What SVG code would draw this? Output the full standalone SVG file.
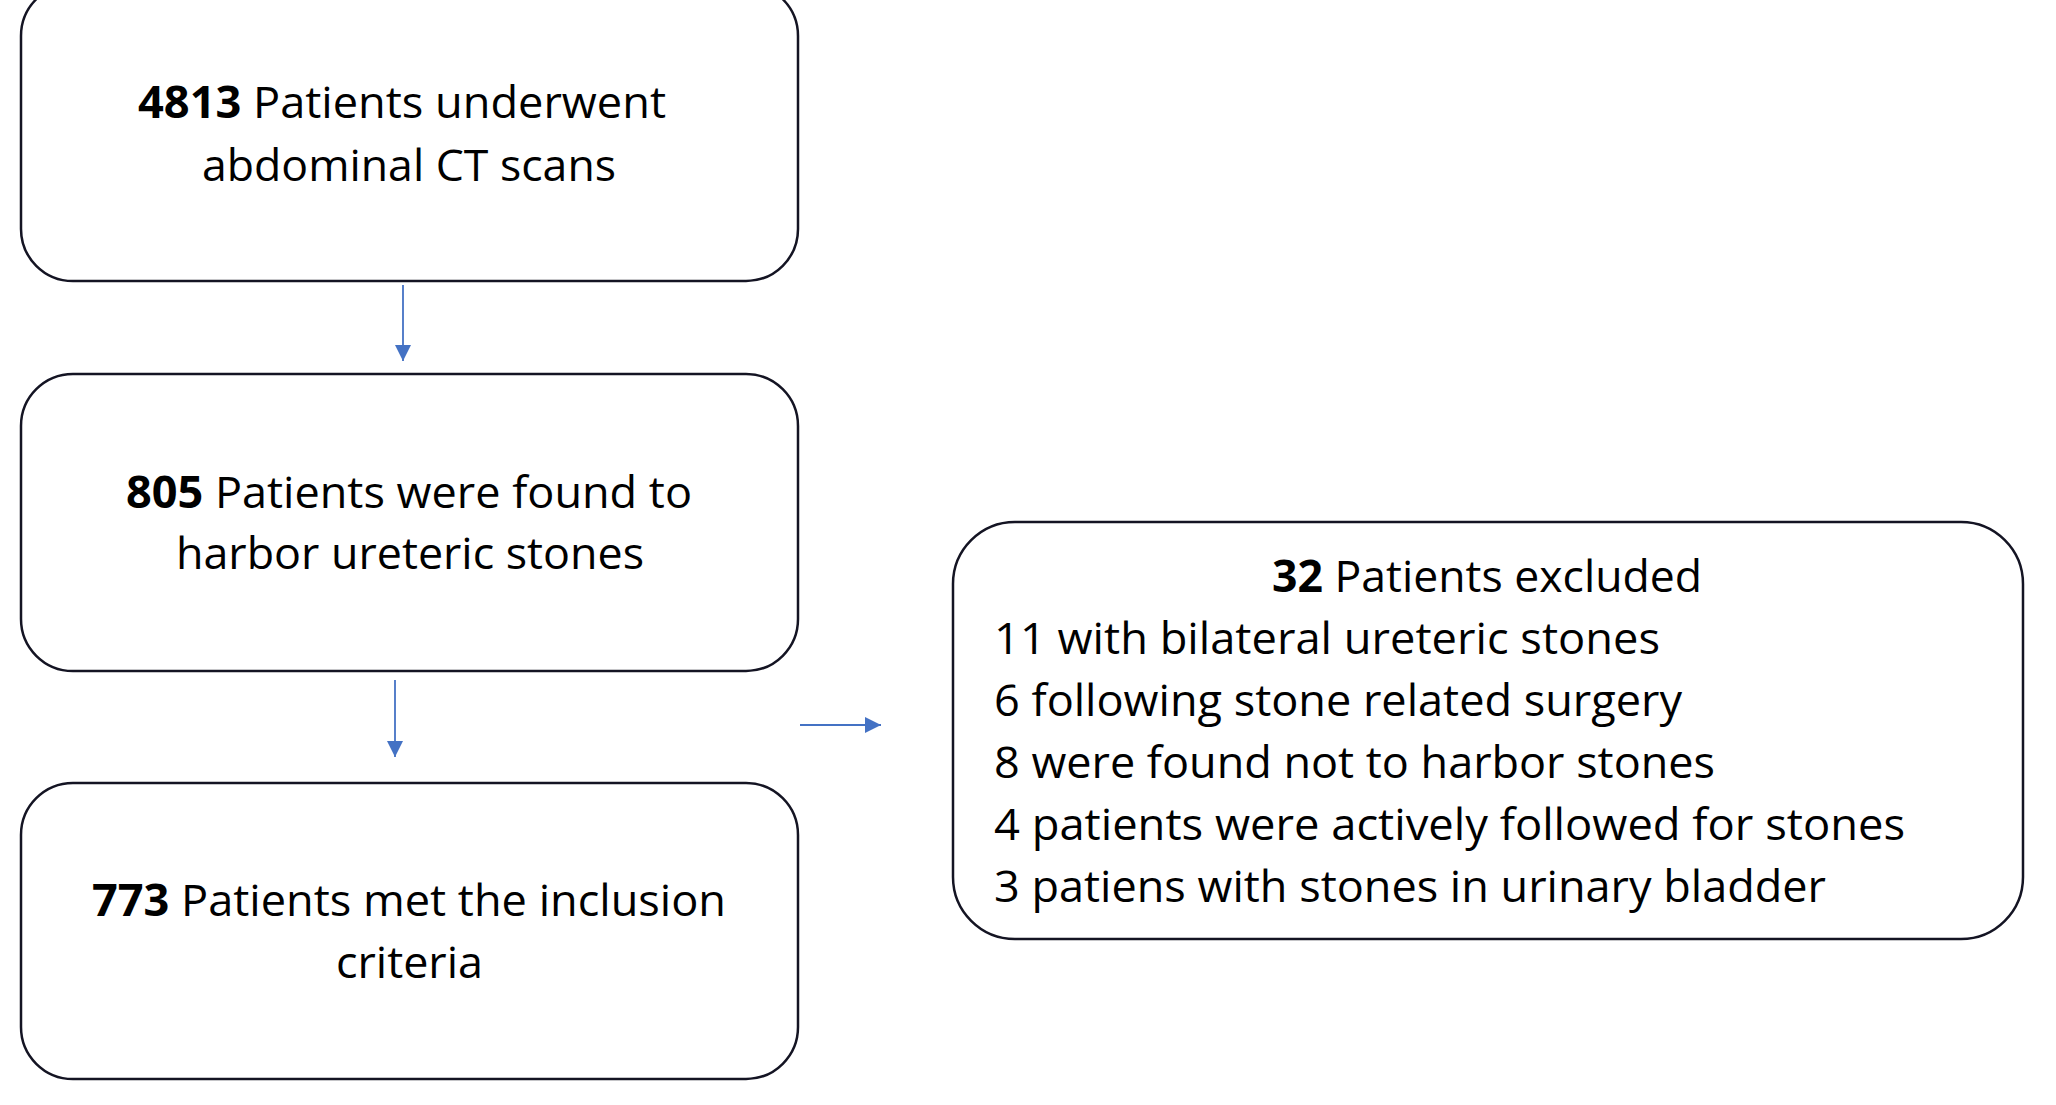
<svg xmlns="http://www.w3.org/2000/svg" width="2056" height="1105" viewBox="0 0 2056 1105">
<style>
.box{fill:#fff;stroke:#141423;stroke-width:2.5}
.t{font-family:"Open Sans","Noto Sans","Liberation Sans",sans-serif;font-size:44px;fill:#000}
.b{font-weight:700}
.conn{stroke:#4472C4;stroke-width:1.8;fill:none}
</style>
<defs>
<marker id="ah" viewBox="0 0 10 10" refX="10" refY="5" markerWidth="16" markerHeight="16" markerUnits="userSpaceOnUse" orient="auto">
<path d="M0,0 L10,5 L0,10 Z" fill="#4472C4"/>
</marker>
</defs>
<rect width="2056" height="1105" fill="#fff"/>
<g id="connectors">
<line class="conn" x1="403" y1="285" x2="403" y2="361" marker-end="url(#ah)"/>
<line class="conn" x1="395" y1="680" x2="395" y2="757" marker-end="url(#ah)"/>
<line class="conn" x1="800" y1="725" x2="881" y2="725" marker-end="url(#ah)"/>
</g>
<g id="node-ct">
<rect class="box" x="21" y="-16" width="777" height="297" rx="52"/>
<text class="t" x="138" y="118" textLength="528" lengthAdjust="spacingAndGlyphs"><tspan class="b">4813</tspan> Patients underwent</text>
<text class="t" x="202" y="181" textLength="414" lengthAdjust="spacingAndGlyphs">abdominal CT scans</text>
</g>
<g id="node-stones">
<rect class="box" x="21" y="374" width="777" height="297" rx="52"/>
<text class="t" x="126" y="508" textLength="566" lengthAdjust="spacingAndGlyphs"><tspan class="b">805</tspan> Patients were found to</text>
<text class="t" x="176" y="569" textLength="468" lengthAdjust="spacingAndGlyphs">harbor ureteric stones</text>
</g>
<g id="node-included">
<rect class="box" x="21" y="783" width="777" height="296" rx="52"/>
<text class="t" x="92" y="916" textLength="634" lengthAdjust="spacingAndGlyphs"><tspan class="b">773</tspan> Patients met the inclusion</text>
<text class="t" x="336" y="978" textLength="147" lengthAdjust="spacingAndGlyphs">criteria</text>
</g>
<g id="node-excluded">
<rect class="box" x="953" y="522" width="1070" height="417" rx="62"/>
<text class="t" x="1272" y="592" textLength="430" lengthAdjust="spacingAndGlyphs"><tspan class="b">32</tspan> Patients excluded</text>
<text class="t" x="994" y="654" textLength="666" lengthAdjust="spacingAndGlyphs">11 with bilateral ureteric stones</text>
<text class="t" x="994" y="716" textLength="688" lengthAdjust="spacingAndGlyphs">6 following stone related surgery</text>
<text class="t" x="994" y="778" textLength="721" lengthAdjust="spacingAndGlyphs">8 were found not to harbor stones</text>
<text class="t" x="994" y="840" textLength="911" lengthAdjust="spacingAndGlyphs">4 patients were actively followed for stones</text>
<text class="t" x="994" y="902" textLength="832" lengthAdjust="spacingAndGlyphs">3 patiens with stones in urinary bladder</text>
</g>
</svg>
